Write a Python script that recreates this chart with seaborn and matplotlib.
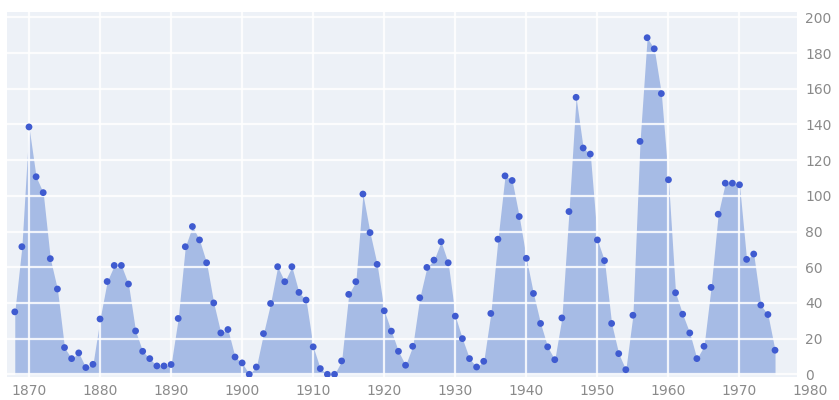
import numpy as np
import pandas as pd
import seaborn as sns
import matplotlib.pyplot as plt

# yearly sunspot numbers
years = np.arange(1868, 1976)
sunspots = [
    35, 71.5, 138.6, 110.7, 101.8, 64.8, 47.8, 15, 8.8, 12,          # 1868-1877
    3.8, 5.6, 31, 52, 61, 61, 50.6, 24.3, 12.9, 8.8,                 # 1878-1887
    4.7, 4.7, 5.5, 31.3, 71.5, 82.8, 75.3, 62.5, 40, 23.2,           # 1888-1897
    25.1, 9.7, 6.4, 0, 4.1, 22.8, 39.7, 60.3, 51.9, 60.3,            # 1898-1907
    45.9, 41.6, 15.4, 3.2, 0, 0, 7.5, 44.8, 51.9, 101,               # 1908-1917
    79.4, 61.6, 35.6, 24.2, 12.9, 5.1, 15.7, 42.9, 59.9, 64,         # 1918-1927
    74.3, 62.5, 32.6, 20, 8.8, 4.1, 7.3, 34.1, 75.7, 111.2,          # 1928-1937
    108.6, 88.4, 65, 45.3, 28.5, 15.4, 8.2, 31.6, 91.2, 155.2,       # 1938-1947
    126.8, 123.4, 75.3, 63.7, 28.5, 11.6, 2.6, 33.1, 130.5, 188.6,   # 1948-1957
    182.4, 157.3, 109, 45.7, 33.7, 23.2, 8.8, 15.7, 48.7, 89.7,      # 1958-1967
    107.1, 107.1, 106.2, 64.4, 67.4, 38.8, 33.5, 13.5,               # 1968-1975
]
decade_ticks = [1870, 1880, 1890, 1900, 1910, 1920, 1930, 1940, 1950, 1960, 1970]
y_ticks = [0, 20, 40, 60, 80, 100, 120, 140, 160, 180, 200]

df = pd.DataFrame({'year': years, 'spots': sunspots})

sns.set_style('whitegrid', {
    'axes.facecolor': '#edf1f7',
    'grid.color': 'white',
    'axes.edgecolor': 'none',
})
plt.rcParams['font.family'] = ['DejaVu Sans']

fig = plt.figure(figsize=(8.39, 4.0), dpi=100)
ax = fig.add_axes([0.0083, 0.0575, 0.9417, 0.9125])

# filled area under the yearly values
ax.fill_between(df['year'], df['spots'], 0, color='#a6bbe5', linewidth=0, zorder=1)
sns.scatterplot(data=df, x='year', y='spots', ax=ax, color='#3f5bd0',
                s=24, edgecolor='none', zorder=3)

ax.set_axisbelow('line')
ax.grid(True, color='white', linewidth=1.6, alpha=0.85)

ax.set_xlim(1866.9, 1978.1)
ax.set_ylim(-1.5, 203)
ax.set_xticks(decade_ticks)
ax.set_yticks(y_ticks)
ax.yaxis.tick_right()
ax.tick_params(axis='both', length=0, labelcolor='#8a8a8a', labelsize=10)
ax.tick_params(axis='x', pad=5)
ax.tick_params(axis='y', pad=6)
ax.set_xlabel('')
ax.set_ylabel('')
for s in ax.spines.values():
    s.set_visible(False)

# last decade label sits just outside the plot area
ax.text(1980, -0.02, '1980', transform=ax.get_xaxis_transform(),
        ha='center', va='top', fontsize=10, color='#8a8a8a', clip_on=False)

fig.savefig('out.png', dpi=100, facecolor='white')
